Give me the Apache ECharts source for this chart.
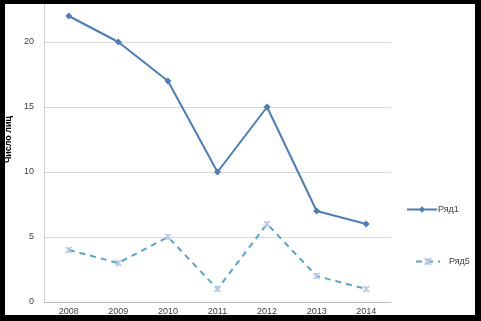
<!DOCTYPE html>
<html><head><meta charset="utf-8">
<script src="https://cdn.jsdelivr.net/npm/echarts@6/dist/echarts.min.js"></script>
<style>
html,body{margin:0;padding:0;background:#000;}
#wrap{position:relative;width:481px;height:321px;background:#000;overflow:hidden;}
#clip{position:absolute;left:5px;top:4px;width:470px;height:311px;background:#fff;overflow:hidden;}
#c{position:absolute;left:0;top:-40px;width:470px;height:351px;}
</style></head>
<body><div id="wrap"><div id="clip"><div id="c"></div></div></div>
<script>
const categories = ['2008','2009','2010','2011','2012','2013','2014'];
const series1 = [22, 20, 17, 10, 15, 7, 6];
const series5 = [4, 3, 5, 1, 6, 2, 1];
const yTicks = [0, 5, 10, 15, 20, 25];

const chart = echarts.init(document.getElementById('c'), null, {renderer:'canvas'});
const xPath = 'path://M0,0 L10,10 M10,0 L0,10 M5,0 L5,10';
chart.setOption({
  animation: false,
  backgroundColor: '#fff',
  textStyle: {fontFamily: 'Liberation Sans, Arial, sans-serif'},
  grid: {left: 39, right: 84, top: 13, bottom: 13, containLabel: false, outerBoundsMode: 'none'},
  legend: [
    {data: ['Ряд1'], left: 396, top: 236, orient: 'vertical', itemWidth: 30, itemHeight: 8,
     textStyle: {fontSize: 9, color: '#404040', padding: [0,0,0,-4]}},
    {data: ['Ряд5'], left: 405, top: 288, orient: 'vertical', itemWidth: 24, itemHeight: 8,
     textStyle: {fontSize: 9, color: '#404040', padding: [0,0,0,4]}}
  ],
  xAxis: {
    type: 'category', data: categories, boundaryGap: true,
    axisLine: {lineStyle: {color: '#bfbfbf', width: 1}},
    axisTick: {show: false},
    axisLabel: {fontSize: 9, color: '#404040', margin: 5}
  },
  yAxis: {
    type: 'value', min: yTicks[0], max: yTicks[yTicks.length-1], interval: 5,
    name: 'Число лиц', nameLocation: 'middle', nameGap: 17, nameRotate: 90,
    nameTextStyle: {fontSize: 9, fontWeight: 'bold', color: '#000'},
    axisLine: {show: true, lineStyle: {color: '#d0d0d0'}},
    axisTick: {show: false},
    axisLabel: {fontSize: 9, color: '#404040', margin: 10},
    splitLine: {lineStyle: {color: '#d9d9d9', width: 1}}
  },
  series: [
    {name: 'Ряд1', type: 'line', data: series1, symbol: 'diamond', symbolSize: 7,
     itemStyle: {color: '#4a7ebb'}, lineStyle: {color: '#4a7ebb', width: 2}},
    {name: 'Ряд5', type: 'line', data: series5, symbol: xPath, symbolSize: 6,
     itemStyle: {color: '#b8c8e6', borderColor: '#b8c8e6', borderWidth: 1.5},
     lineStyle: {color: '#5aa6c6', width: 2, type: [6, 5]}}
  ]
});
</script></body></html>
